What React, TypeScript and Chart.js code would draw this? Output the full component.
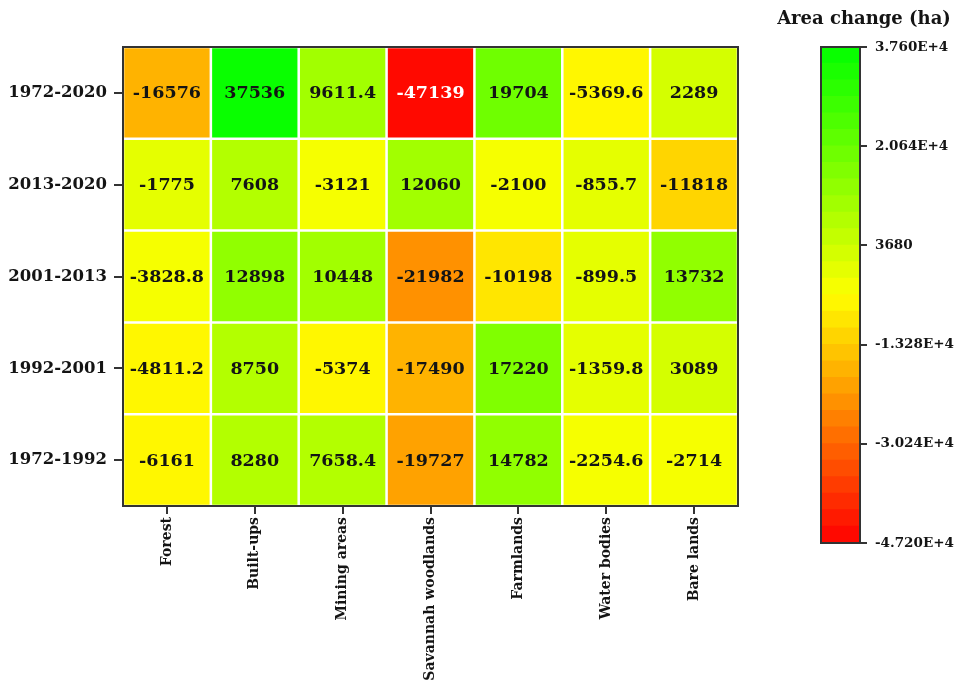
import React, { useEffect, useRef } from "react";
import { Chart, registerables } from "chart.js";

Chart.register(...registerables);

// Land cover classes (columns)
const landTypes = [
  "Forest",
  "Built-ups",
  "Mining areas",
  "Savannah woodlands",
  "Farmlands",
  "Water bodies",
  "Bare lands",
];

// Periods, listed bottom row first
const periods = ["1972-1992", "1992-2001", "2001-2013", "2013-2020", "1972-2020"];

// Area change (ha) per period, one value per land type
const change1972_1992 = [-6161, 8280, 7658.4, -19727, 14782, -2254.6, -2714];
const change1992_2001 = [-4811.2, 8750, -5374, -17490, 17220, -1359.8, 3089];
const change2001_2013 = [-3828.8, 12898, 10448, -21982, -10198, -899.5, 13732];
const change2013_2020 = [-1775, 7608, -3121, 12060, -2100, -855.7, -11818];
const change1972_2020 = [-16576, 37536, 9611.4, -47139, 19704, -5369.6, 2289];

const periodValues = [change1972_1992, change1992_2001, change2001_2013, change2013_2020, change1972_2020];

// Colour scale
const scaleMin = -47200;
const scaleMax = 37600;
const bandCount = 30;
const colorTicks = [37600, 20640, 3680, -13280, -30240, -47200];
const colorTickLabels = ["3.760E+4", "2.064E+4", "3680", "-1.328E+4", "-3.024E+4", "-4.720E+4"];

const SERIF = "'DejaVu Serif', serif";

// red -> yellow -> green ramp, t in [0, 1]
function ramp(t: number): string {
  const c = Math.max(0, Math.min(1, t));
  let r: number, g: number;
  if (c <= 0.5) {
    r = 255;
    g = Math.round(255 * (c / 0.5));
  } else {
    r = Math.round(255 * (1 - (c - 0.5) / 0.5));
    g = 255;
  }
  return `rgb(${r},${g},0)`;
}

function bandIndex(v: number): number {
  const t = (v - scaleMin) / (scaleMax - scaleMin);
  return Math.max(0, Math.min(bandCount - 1, Math.floor(t * bandCount)));
}

function bandColor(k: number): string {
  return ramp((k + 0.5) / bandCount);
}

function valueColor(v: number): string {
  return bandColor(bandIndex(v));
}

// Writes each cell's value at its centre
const cellLabelPlugin = {
  id: "cellLabels",
  afterDatasetsDraw(chart: any) {
    const ctx = chart.ctx;
    ctx.save();
    ctx.font = `bold 17.5px ${SERIF}`;
    ctx.textAlign = "center";
    ctx.textBaseline = "middle";
    chart.data.datasets.forEach((ds: any, di: number) => {
      const meta = chart.getDatasetMeta(di);
      meta.data.forEach((el: any, i: number) => {
        const v = ds.cellValues[i];
        const cy = (el.y + el.base) / 2;
        ctx.fillStyle = v < -40000 ? "#ffffff" : "#141414";
        ctx.fillText(String(v), el.x, cy + 1);
      });
    });
    ctx.restore();
  },
};

// Dark frame round the plotting area
const framePlugin = {
  id: "frame",
  afterDraw(chart: any) {
    const { ctx, chartArea } = chart;
    ctx.save();
    ctx.strokeStyle = "#333333";
    ctx.lineWidth = 2;
    ctx.strokeRect(chartArea.left, chartArea.top, chartArea.right - chartArea.left, chartArea.bottom - chartArea.top);
    ctx.restore();
  },
};

const colorTitlePlugin = {
  id: "colorTitle",
  afterDraw(chart: any) {
    const ctx = chart.ctx;
    ctx.save();
    ctx.font = `bold 18px ${SERIF}`;
    ctx.fillStyle = "#141414";
    ctx.textAlign = "center";
    ctx.textBaseline = "middle";
    ctx.fillText("Area change (ha)", 104, 19);
    ctx.restore();
  },
};

function HeatmapCanvas() {
  const ref = useRef<HTMLCanvasElement | null>(null);
  useEffect(() => {
    if (!ref.current) return;
    const chart = new Chart(ref.current, {
      type: "bar",
      data: {
        labels: landTypes,
        datasets: periods.map((p, i) => ({
          label: p,
          data: landTypes.map(() => 1),
          cellValues: periodValues[i],
          backgroundColor: periodValues[i].map(valueColor),
          borderColor: "#ffffff",
          borderWidth: 1.6,
          borderSkipped: false,
          barPercentage: 1,
          categoryPercentage: 1,
        })) as any,
      },
      options: {
        responsive: false,
        animation: false,
        devicePixelRatio: 1,
        layout: { padding: { top: 47, right: 22, left: 0, bottom: 0 } },
        plugins: {
          legend: { display: false },
          tooltip: { enabled: false },
          title: { display: false },
        },
        scales: {
          x: {
            stacked: true,
            offset: true,
            border: { display: false },
            grid: {
              offset: false,
              drawOnChartArea: false,
              drawTicks: true,
              tickLength: 8,
              color: "#333333",
              lineWidth: 2,
            },
            ticks: {
              minRotation: 90,
              maxRotation: 90,
              autoSkip: false,
              padding: 3,
              color: "#141414",
              font: { family: SERIF, size: 14, weight: "bold" },
            },
            afterFit(scale: any) {
              scale.height = 178;
            },
          },
          y: {
            stacked: true,
            min: 0,
            max: periods.length,
            border: { display: false },
            grid: {
              drawOnChartArea: false,
              drawTicks: true,
              tickLength: 9,
              color: "#333333",
              lineWidth: 2,
            },
            afterBuildTicks(scale: any) {
              scale.ticks = periods.map((_, i) => ({ value: i + 0.5 }));
            },
            ticks: {
              padding: 7,
              color: "#141414",
              font: { family: SERIF, size: 16.5, weight: "bold" },
              callback: (value: any) => periods[Math.floor(Number(value))] ?? "",
            },
            afterFit(scale: any) {
              scale.width = 123;
            },
          },
        },
      } as any,
      plugins: [cellLabelPlugin, framePlugin],
    });
    return () => chart.destroy();
  }, []);
  return <canvas ref={ref} width={760} height={684} style={{ position: "absolute", left: 0, top: 0 }} />;
}

function ColorBarCanvas() {
  const ref = useRef<HTMLCanvasElement | null>(null);
  useEffect(() => {
    if (!ref.current) return;
    const step = (scaleMax - scaleMin) / bandCount;
    const bands = Array.from({ length: bandCount }, (_, k) => k);
    const chart = new Chart(ref.current, {
      type: "bar",
      data: {
        labels: ["scale"],
        datasets: bands.map((k) => ({
          data: [[scaleMin + k * step, scaleMin + (k + 1) * step + (k < bandCount - 1 ? step * 0.02 : 0)]],
          backgroundColor: bandColor(k),
          borderWidth: 0,
          grouped: false,
          barPercentage: 1,
          categoryPercentage: 1,
        })) as any,
      },
      options: {
        responsive: false,
        animation: false,
        devicePixelRatio: 1,
        layout: { padding: { top: 47, bottom: 141, left: 61, right: 0 } },
        plugins: {
          legend: { display: false },
          tooltip: { enabled: false },
        },
        scales: {
          x: { display: false },
          y: {
            position: "right",
            min: scaleMin,
            max: scaleMax,
            border: { display: false },
            grid: {
              drawOnChartArea: false,
              drawTicks: true,
              tickLength: 7,
              color: "#333333",
              lineWidth: 2,
            },
            afterBuildTicks(scale: any) {
              scale.ticks = colorTicks.map((v) => ({ value: v }));
            },
            ticks: {
              padding: 8,
              color: "#141414",
              font: { family: SERIF, size: 13.5, weight: "bold" },
              callback: (value: any) => {
                const idx = colorTicks.indexOf(Number(value));
                return idx >= 0 ? colorTickLabels[idx] : "";
              },
            },
            afterFit(scale: any) {
              scale.width = 105;
            },
          },
        },
      } as any,
      plugins: [framePlugin, colorTitlePlugin],
    });
    return () => chart.destroy();
  }, []);
  return <canvas ref={ref} width={205} height={684} style={{ position: "absolute", left: 760, top: 0 }} />;
}

export default function App() {
  return (
    <div style={{ position: "absolute", left: 0, top: 0, width: 965, height: 684, background: "#ffffff" }}>
      <HeatmapCanvas />
      <ColorBarCanvas />
    </div>
  );
}
